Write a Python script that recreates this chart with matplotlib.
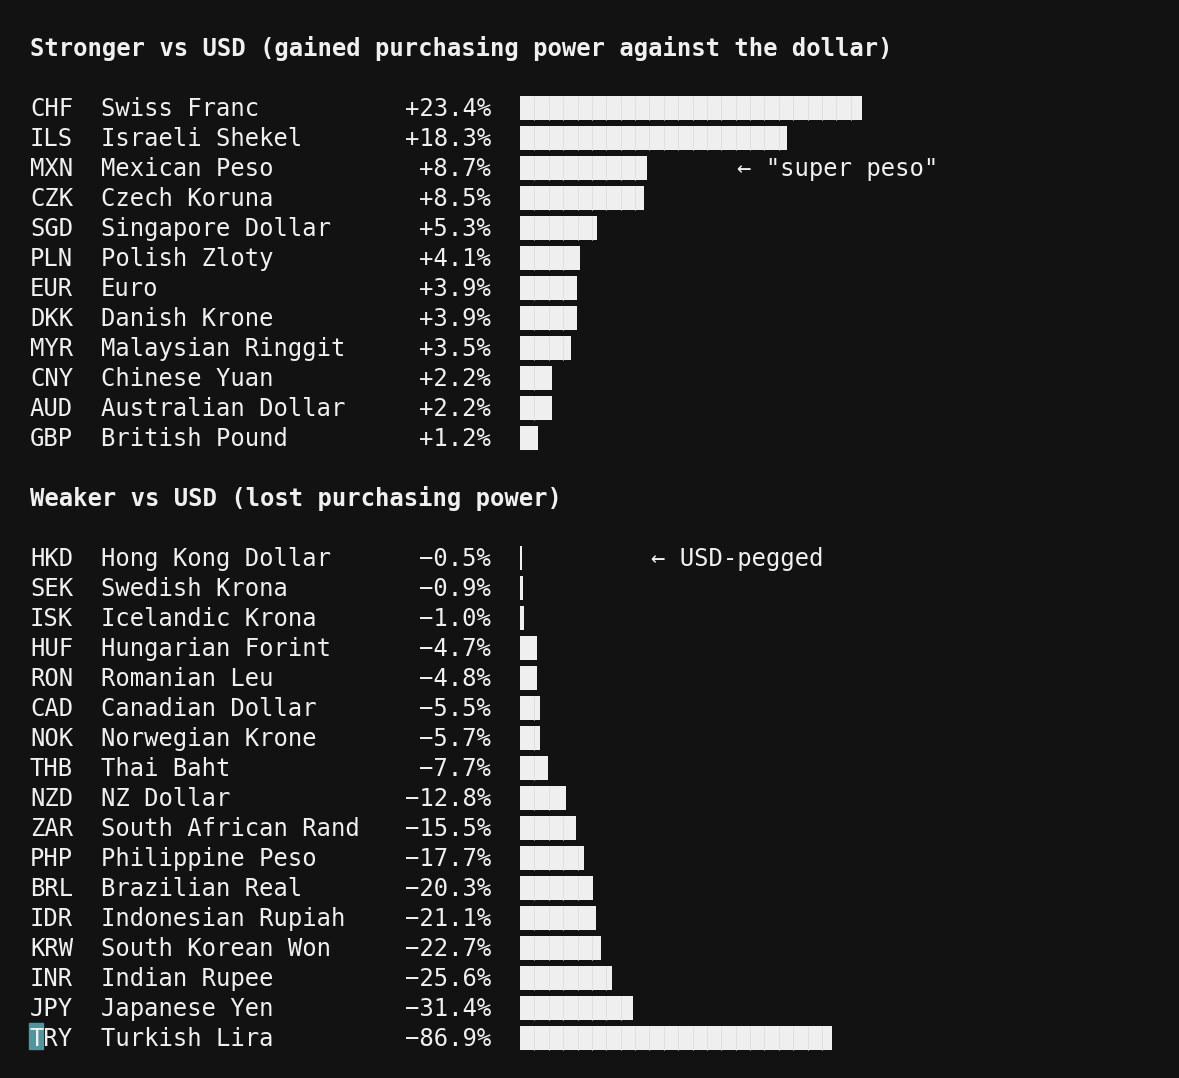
import matplotlib
matplotlib.use("Agg")
import matplotlib.pyplot as plt
from matplotlib.patches import Rectangle

# data
strong_codes = ["CHF", "ILS", "MXN", "CZK", "SGD", "PLN", "EUR", "DKK", "MYR", "CNY", "AUD", "GBP"]
strong_names = ["Swiss Franc", "Israeli Shekel", "Mexican Peso", "Czech Koruna", "Singapore Dollar",
                "Polish Zloty", "Euro", "Danish Krone", "Malaysian Ringgit", "Chinese Yuan",
                "Australian Dollar", "British Pound"]
strong_vals = [23.4, 18.3, 8.7, 8.5, 5.3, 4.1, 3.9, 3.9, 3.5, 2.2, 2.2, 1.2]

weak_codes = ["HKD", "SEK", "ISK", "HUF", "RON", "CAD", "NOK", "THB", "NZD", "ZAR", "PHP",
              "BRL", "IDR", "KRW", "INR", "JPY", "TRY"]
weak_names = ["Hong Kong Dollar", "Swedish Krona", "Icelandic Krona", "Hungarian Forint",
              "Romanian Leu", "Canadian Dollar", "Norwegian Krone", "Thai Baht", "NZ Dollar",
              "South African Rand", "Philippine Peso", "Brazilian Real", "Indonesian Rupiah",
              "South Korean Won", "Indian Rupee", "Japanese Yen", "Turkish Lira"]
weak_vals = [-0.5, -0.9, -1.0, -4.7, -4.8, -5.5, -5.7, -7.7, -12.8, -15.5, -17.7, -20.3,
             -21.1, -22.7, -25.6, -31.4, -86.9]

notes = {"MXN": '← "super peso"', "HKD": "← USD-pegged"}
header_top = "Stronger vs USD (gained purchasing power against the dollar)"
header_bot = "Weaker vs USD (lost purchasing power)"

BG = "#121212"
FG = "#f0f0f0"
BAR = "#efefef"
MONO = ["DejaVu Sans Mono", "DejaVu Sans"]
FS = 17.2

W, H = 1179, 1078
fig = plt.figure(figsize=(W / 100, H / 100), dpi=100, facecolor=BG)

# text layer in pixel coordinates
ax = fig.add_axes([0, 0, 1, 1])
ax.set_xlim(0, W)
ax.set_ylim(H, 0)
ax.axis("off")
ax.set_facecolor(BG)

# bar layers (different scale for each section)
bar_left = 520
bar_w = 620
ax_top = fig.add_axes([bar_left / W, 0, bar_w / W, 1])
ax_top.set_xlim(0, bar_w / 14.6)
ax_bot = fig.add_axes([bar_left / W, 0, bar_w / W, 1])
ax_bot.set_xlim(0, bar_w / 3.59)
for a in (ax_top, ax_bot):
    a.set_ylim(H, 0)
    a.axis("off")
    a.patch.set_alpha(0)

row_h = 30
cell_px = 14.38


def section(bax, codes, names, vals, header_y, first_y):
    ax.text(30, header_y, (header_top if vals[0] > 0 else header_bot), color=FG,
            family=MONO, fontsize=FS, fontweight="bold", va="baseline")
    ys = [first_y + row_h * i for i in range(len(codes))]
    for code, name, v, y in zip(codes, names, vals, ys):
        ax.text(30, y, code, color=FG, family=MONO, fontsize=FS, va="baseline")
        ax.text(101, y, name, color=FG, family=MONO, fontsize=FS, va="baseline")
        label = f"{v:+.1f}%".replace("-", "\u2212")
        ax.text(491, y, label, color=FG, family=MONO, fontsize=FS, va="baseline", ha="right")
        if code in notes:
            nx = 737 if v > 0 else 651
            ax.text(nx, y, notes[code], color=FG, family=MONO, fontsize=FS, va="baseline")
    widths = [abs(v) for v in vals]
    centers = [y - 8 for y in ys]
    bax.barh(centers, widths, height=24, color=BAR, edgecolor="none")
    # faint cell seams like block characters
    x0, x1 = bax.get_xlim()
    cell = cell_px * (x1 - x0) / bar_w
    for w, c in zip(widths, centers):
        k = 1
        while k * cell < w - 0.3 * cell:
            bax.plot([k * cell, k * cell], [c - 12, c + 12], color="#dadada", lw=0.5)
            k += 1
    return ys


section(ax_top, strong_codes, strong_names, strong_vals, 56, 116)
ys = section(ax_bot, weak_codes, weak_names, weak_vals, 506, 566)

# terminal cursor on the last line
ax.add_patch(Rectangle((29, ys[-1] - 23), 14, 26, color="#4f969f", zorder=0))

fig.savefig("out.png", dpi=100, facecolor=BG)
